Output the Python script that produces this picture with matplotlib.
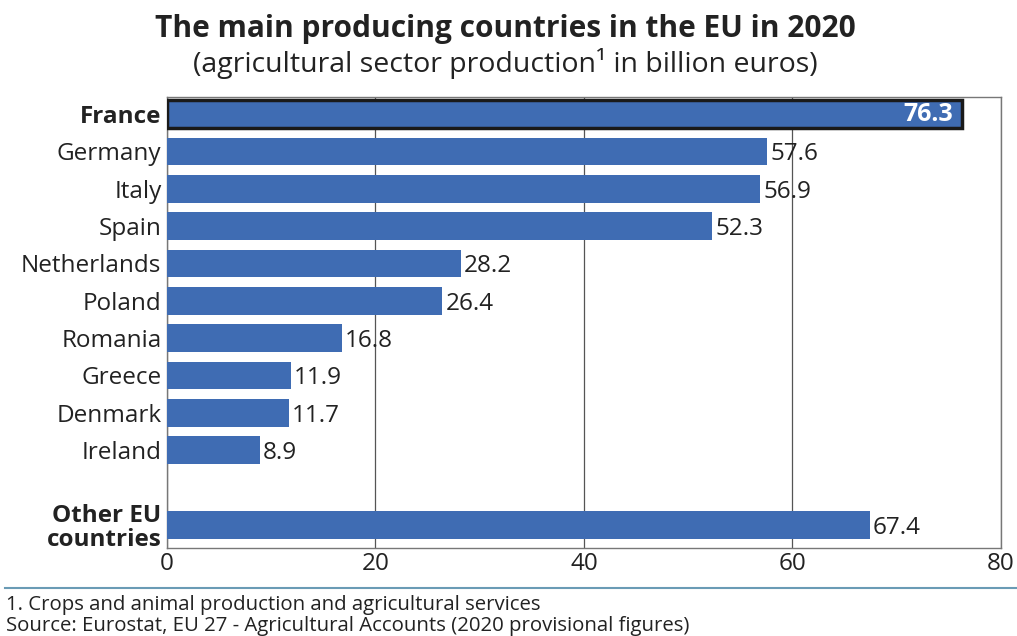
import matplotlib.pyplot as plt

countries = ["France", "Germany", "Italy", "Spain", "Netherlands", "Poland",
             "Romania", "Greece", "Denmark", "Ireland", "Other EU\ncountries"]
values = [76.3, 57.6, 56.9, 52.3, 28.2, 26.4, 16.8, 11.9, 11.7, 8.9, 67.4]
positions = [0, 1, 2, 3, 4, 5, 6, 7, 8, 9, 11]
ticks = [0, 20, 40, 60, 80]

bar_color = "#3f6cb3"
text_color = "#222222"
plt.rcParams['font.family'] = ['Open Sans', 'DejaVu Sans']

fig = plt.figure(figsize=(10.17, 6.36), dpi=100)
ax = fig.add_axes([0.1642, 0.1384, 0.820, 0.7091])

bars = ax.barh(positions, values, height=0.74, color=bar_color, zorder=3)
# France is outlined
bars[0].set_edgecolor("#1a1a1a")
bars[0].set_linewidth(2.5)

for i, (p, v) in enumerate(zip(positions, values)):
    if i == 0:
        ax.text(v - 0.9, p, f"{v}", ha="right", va="center", color="white",
                fontsize=18, fontweight="bold", zorder=4)
    else:
        ax.text(v + 0.3, p + 0.08, f"{v}", ha="left", va="center",
                color=text_color, fontsize=17.5, zorder=4)

ax.set_xlim(0, 80)
ax.set_ylim(11.62, -0.46)
ax.set_xticks(ticks)
ax.set_xticklabels([str(t) for t in ticks], fontsize=17.5, color=text_color)
ax.set_yticks(positions)
ax.set_yticklabels(countries, fontsize=17.5, color=text_color, linespacing=1.0)
for i in (0, 10):
    ax.get_yticklabels()[i].set_fontweight("bold")
ax.tick_params(length=0, pad=4)
ax.tick_params(axis="x", pad=3)
ax.grid(axis="x", color="#555555", linewidth=0.9, zorder=0)
for s in ax.spines.values():
    s.set_color("#777777")
    s.set_linewidth(1.0)

fig.text(0.497, 0.954, "The main producing countries in the EU in 2020",
         ha="center", va="center", fontsize=21.5, fontweight="bold", color=text_color)
fig.text(0.497, 0.900, "(agricultural sector production\u00b9 in billion euros)",
         ha="center", va="center", fontsize=20.5, color=text_color)

fig.add_artist(plt.Line2D([0.005, 1.0], [0.075, 0.075], color="#6a9bb5",
                          linewidth=1.5, transform=fig.transFigure))
fig.text(0.006, 0.048, "1. Crops and animal production and agricultural services",
         ha="left", va="center", fontsize=14.7, color=text_color)
fig.text(0.006, 0.015, "Source: Eurostat, EU 27 - Agricultural Accounts (2020 provisional figures)",
         ha="left", va="center", fontsize=14.7, color=text_color)

fig.savefig("out.png", dpi=100)
